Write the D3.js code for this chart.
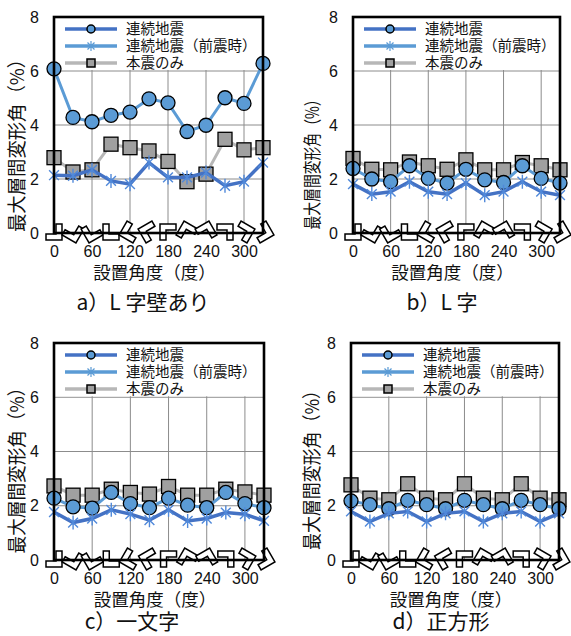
<!DOCTYPE html>
<html>
<head>
<meta charset="utf-8">
<script src="https://cdn.jsdelivr.net/npm/d3@7/dist/d3.min.js"></script>
<style>
  html, body { margin: 0; padding: 0; background: #fff; }
  svg { display: block; }
  text { font-family: "Liberation Sans", Arial, "Noto Sans CJK JP", sans-serif; fill: #111; }
  .jp { font-family: "Noto Sans CJK JP", "Liberation Sans", sans-serif; }
</style>
</head>
<body>
<svg id="chart" width="571" height="636"></svg>
<script>
// Installation angle (deg) and response values for the four wall plans
const angles = [0, 30, 60, 90, 120, 150, 180, 210, 240, 270, 300, 330];
const xTicks = [0, 60, 120, 180, 240, 300];
const yTicks = [0, 2, 4, 6, 8];

const seriesNames = ["連続地震", "連続地震（前震時）", "本震のみ"];
const panelCaptions = ["a）L 字壁あり", "b）L 字", "c）一文字", "d）正方形"];
const xTitle = "設置角度（度）";
const yTitle = "最大層間変形角（%）";

// 連続地震
const seqA = [6.08, 4.28, 4.12, 4.36, 4.48, 4.97, 4.82, 3.76, 3.99, 5.01, 4.80, 6.28];
const seqB = [2.39, 2.00, 1.90, 2.49, 2.02, 1.85, 2.36, 1.97, 1.87, 2.49, 2.02, 1.85];
const seqC = [2.28, 1.96, 1.91, 2.49, 2.08, 1.93, 2.28, 2.02, 1.93, 2.49, 2.08, 1.93];
const seqD = [2.18, 2.04, 1.89, 2.20, 2.04, 1.89, 2.20, 2.04, 1.89, 2.20, 2.04, 1.89];
// 連続地震（前震時）
const foreA = [2.14, 2.12, 2.34, 1.93, 1.81, 2.61, 2.06, 2.06, 2.24, 1.75, 1.90, 2.61];
const foreB = [1.81, 1.44, 1.53, 1.90, 1.53, 1.44, 1.85, 1.40, 1.53, 1.90, 1.53, 1.40];
const foreC = [1.77, 1.38, 1.53, 1.85, 1.69, 1.47, 1.85, 1.44, 1.53, 1.75, 1.69, 1.44];
const foreD = [1.79, 1.42, 1.72, 1.79, 1.42, 1.72, 1.79, 1.42, 1.72, 1.79, 1.42, 1.72];
// 本震のみ
const mainA = [2.79, 2.26, 2.34, 3.29, 3.16, 3.04, 2.65, 1.90, 2.18, 3.47, 3.08, 3.16];
const mainB = [2.76, 2.36, 2.34, 2.63, 2.49, 2.36, 2.71, 2.34, 2.34, 2.61, 2.49, 2.34];
const mainC = [2.73, 2.39, 2.39, 2.61, 2.49, 2.43, 2.71, 2.39, 2.39, 2.61, 2.51, 2.39];
const mainD = [2.77, 2.28, 2.22, 2.81, 2.28, 2.22, 2.81, 2.28, 2.22, 2.81, 2.28, 2.22];

const panelData = [
  { seq: seqA, fore: foreA, main: mainA },
  { seq: seqB, fore: foreB, main: mainB },
  { seq: seqC, fore: foreC, main: mainC },
  { seq: seqD, fore: foreD, main: mainD }
];

// Plot-area frames and label placement for each panel
const layout = [
  { l: 54,  r: 263, t: 17,  b: 233, yLabX: 18,  yLabY: 141, yLabLen: 182, yLabSize: 19, capX: 143, capY: 310 },
  { l: 353, r: 560, t: 17,  b: 233, yLabX: 313, yLabY: 161, yLabLen: 137, yLabSize: 18, capX: 442, capY: 310 },
  { l: 54,  r: 264, t: 343, b: 560, yLabX: 18,  yLabY: 466, yLabLen: 175, yLabSize: 19, capX: 132, capY: 629 },
  { l: 351, r: 559, t: 343, b: 560, yLabX: 313, yLabY: 466, yLabLen: 168, yLabSize: 19, capX: 441, capY: 629 }
];

const C_SEQ_LINE = "#5B9BD5", C_SEQ_FILL = "#5B9BD5";
const C_FORE_LINE = "#4472C4", C_FORE_MARK = "#5089DA";
const C_MAIN_LINE = "#B7B7B7", C_MAIN_FILL = "#A0A0A0";
const C_LEG_SEQ = "#4472C4", C_LEG_FORE = "#5B9BD5";

const svg = d3.select("#chart");

// L-shaped wall plan outline, centred on its bounding box (┘ at 0 deg)
const planShape = [[-8, 2], [2, 2], [2, -8], [8, -8], [8, 8], [-8, 8]];

function asterisk(g, cx, cy, s, color, w) {
  const d = s * 0.7;
  g.append("path")
    .attr("d", `M${cx},${cy - s}L${cx},${cy + s}M${cx - d},${cy - d}L${cx + d},${cy + d}M${cx - d},${cy + d}L${cx + d},${cy - d}`)
    .attr("stroke", color).attr("stroke-width", w).attr("fill", "none");
}

layout.forEach((p, i) => {
  const data = panelData[i];
  const g = svg.append("g");
  const x = d3.scaleLinear().domain([0, 330]).range([p.l, p.r]);
  const y = d3.scaleLinear().domain([0, 8]).range([p.b, p.t]);

  // grid
  g.append("g").selectAll("line").data(xTicks.filter(v => v > 0)).join("line")
    .attr("x1", d => x(d)).attr("x2", d => x(d)).attr("y1", p.t).attr("y2", p.b)
    .attr("stroke", "#8c8c8c").attr("stroke-width", 1);
  g.append("g").selectAll("line").data(yTicks.filter(v => v > 0 && v < 8)).join("line")
    .attr("x1", p.l).attr("x2", p.r).attr("y1", d => y(d)).attr("y2", d => y(d))
    .attr("stroke", "#8c8c8c").attr("stroke-width", 1);

  // legend background
  g.append("rect").attr("x", p.l).attr("y", p.t).attr("width", p.r - p.l).attr("height", y(6) - p.t - 1)
    .attr("fill", "#fff");

  // legend
  const lx0 = p.l + 11, lx1 = p.l + 63, lm = p.l + 37, ltx = p.l + 72;
  const rows = [p.t + 12, p.t + 29, p.t + 46];
  g.append("line").attr("x1", lx0).attr("x2", lx1).attr("y1", rows[0]).attr("y2", rows[0])
    .attr("stroke", C_LEG_SEQ).attr("stroke-width", 3.5);
  g.append("circle").attr("cx", lm).attr("cy", rows[0]).attr("r", 4)
    .attr("fill", C_SEQ_FILL).attr("stroke", "#000").attr("stroke-width", 1.5);
  g.append("line").attr("x1", lx0).attr("x2", lx1).attr("y1", rows[1]).attr("y2", rows[1])
    .attr("stroke", C_LEG_FORE).attr("stroke-width", 3.5);
  asterisk(g, lm, rows[1], 5, C_LEG_FORE, 1.2);
  g.append("line").attr("x1", lx0).attr("x2", lx1).attr("y1", rows[2]).attr("y2", rows[2])
    .attr("stroke", C_MAIN_LINE).attr("stroke-width", 3.5);
  g.append("rect").attr("x", lm - 4).attr("y", rows[2] - 4).attr("width", 8).attr("height", 8)
    .attr("fill", C_MAIN_FILL).attr("stroke", "#000").attr("stroke-width", 1.5);
  seriesNames.forEach((n, k) => {
    g.append("text").attr("class", "jp").attr("x", ltx).attr("y", rows[k] + 5)
      .attr("font-size", 14.5).text(n);
  });

  // wall plan icons along the baseline
  angles.forEach(a => {
    g.append("polygon")
      .attr("points", planShape.map(q => q.join(",")).join(" "))
      .attr("transform", `translate(${x(a)},${y(0) - 1}) rotate(${a})`)
      .attr("fill", "#fff").attr("stroke", "#000").attr("stroke-width", 1.5)
      .attr("stroke-linejoin", "miter");
  });

  const pts = vals => vals.map((v, k) => [x(angles[k]), y(v)]);
  const line = d3.line();

  // 本震のみ
  g.append("path").attr("d", line(pts(data.main))).attr("fill", "none")
    .attr("stroke", C_MAIN_LINE).attr("stroke-width", 3);
  g.append("g").selectAll("rect").data(data.main).join("rect")
    .attr("x", (d, k) => x(angles[k]) - 7).attr("y", d => y(d) - 7)
    .attr("width", 14).attr("height", 14)
    .attr("fill", C_MAIN_FILL).attr("stroke", "#000").attr("stroke-width", 1.3);

  // 連続地震
  g.append("path").attr("d", line(pts(data.seq))).attr("fill", "none")
    .attr("stroke", C_SEQ_LINE).attr("stroke-width", 3);
  g.append("g").selectAll("circle").data(data.seq).join("circle")
    .attr("cx", (d, k) => x(angles[k])).attr("cy", d => y(d)).attr("r", 7)
    .attr("fill", C_SEQ_FILL).attr("stroke", "#000").attr("stroke-width", 1.3);

  // 連続地震（前震時）
  g.append("path").attr("d", line(pts(data.fore))).attr("fill", "none")
    .attr("stroke", C_FORE_LINE).attr("stroke-width", 3.5);
  data.fore.forEach((v, k) => asterisk(g, x(angles[k]), y(v), 7, C_FORE_MARK, 1.4));

  // frame
  g.append("rect").attr("x", p.l).attr("y", p.t).attr("width", p.r - p.l).attr("height", p.b - p.t)
    .attr("fill", "none").attr("stroke", "#000").attr("stroke-width", 2.6);

  // axes labels
  const xa = d3.axisBottom(x).tickValues(xTicks).tickSize(0).tickPadding(13);
  const xg = g.append("g").attr("transform", `translate(0,${p.b})`).call(xa);
  xg.select(".domain").remove();
  xg.selectAll("text").attr("font-size", 16).attr("fill", "#111")
    .attr("font-family", "Liberation Sans, Arial, sans-serif");

  const ya = d3.axisLeft(y).tickValues(yTicks).tickSize(0).tickPadding(15);
  const yg = g.append("g").attr("transform", `translate(${p.l},0)`).call(ya);
  yg.select(".domain").remove();
  yg.selectAll("text").attr("font-size", 16).attr("fill", "#111")
    .attr("font-family", "Liberation Sans, Arial, sans-serif");

  g.append("text").attr("class", "jp").attr("x", (p.l + p.r) / 2 - 4).attr("y", p.b + 46)
    .attr("text-anchor", "middle").attr("font-size", 17.5).text(xTitle);

  g.append("text").attr("class", "jp")
    .attr("transform", `translate(${p.yLabX + 6},${p.yLabY}) rotate(-90)`)
    .attr("text-anchor", "middle").attr("font-size", p.yLabSize)
    .attr("textLength", p.yLabLen).attr("lengthAdjust", "spacingAndGlyphs")
    .text(yTitle);

  g.append("text").attr("class", "jp").attr("x", p.capX).attr("y", p.capY)
    .attr("text-anchor", "middle").attr("font-size", 21).text(panelCaptions[i]);
});
</script>
</body>
</html>
